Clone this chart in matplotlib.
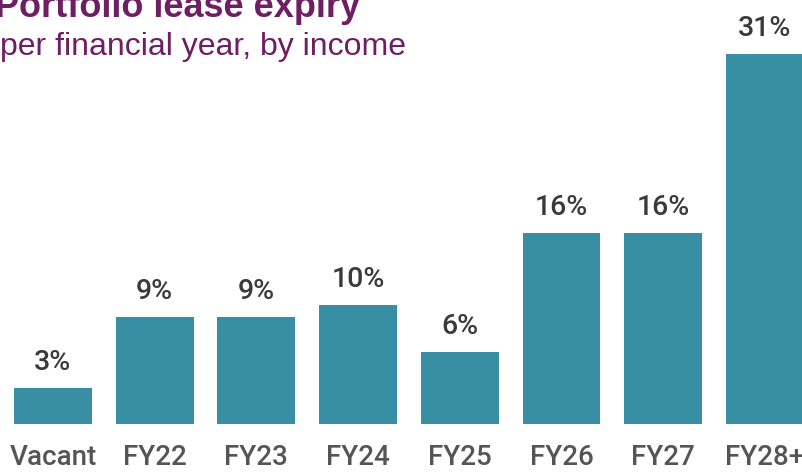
import matplotlib.pyplot as plt
import matplotlib.transforms as mtransforms

# data
categories = ['Vacant', 'FY22', 'FY23', 'FY24', 'FY25', 'FY26', 'FY27', 'FY28+']
expiry = [3, 9, 9, 10, 6, 16, 16, 31]
labels = ['3%', '9%', '9%', '10%', '6%', '16%', '16%', '31%']

bar_col = '#388EA2'
purple = '#6E1E63'
lab_font = ['Roboto', 'DejaVu Sans']
head_font = ['Liberation Sans', 'DejaVu Sans']

fig = plt.figure(figsize=(8.02, 4.72), dpi=100)
ax = fig.add_axes([0, 0, 1, 1])
ax.axis('off')

x = list(range(len(categories)))
ax.bar(x, expiry, width=0.765, color=bar_col)
ax.set_xlim(-0.521, 7.365)
ax.set_ylim(-4.02, 35.54)

# value labels above the bars
for i, (v, lab) in enumerate(zip(expiry, labels)):
    ax.annotate(lab, (i, v), xytext=(0, 13), textcoords='offset points',
                ha='center', va='baseline', fontsize=20.5, fontweight=500,
                color='#3a3a3a', family=lab_font)

# category labels along the bottom edge
trans = mtransforms.blended_transform_factory(ax.transData, ax.transAxes)
for i, c in enumerate(categories):
    ax.text(i, 0.002, c, transform=trans, ha='center', va='bottom',
            fontsize=20, fontweight=500, color='#555555', family=lab_font)

# title and subtitle (top of title is cut off in the original)
fig.text(-0.006, 0.964, 'Portfolio lease expiry', fontsize=26, fontweight='bold',
         color=purple, family=head_font, va='baseline')
fig.text(0.0, 0.883, 'per financial year, by income', fontsize=23,
         color=purple, family=head_font, va='baseline')

fig.savefig('out.png', dpi=100)
